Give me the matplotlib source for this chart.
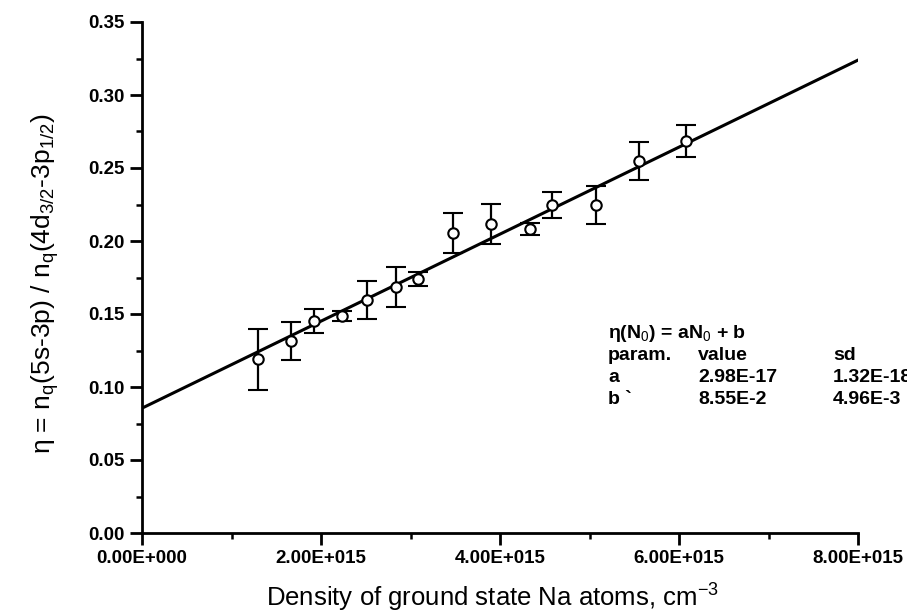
import matplotlib
matplotlib.use("Agg")
import matplotlib.pyplot as plt
import numpy as np
from matplotlib.ticker import FixedLocator, FixedFormatter, MultipleLocator

plt.rcParams['font.family'] = ['Liberation Sans', 'DejaVu Sans']
plt.rcParams['mathtext.fontset'] = 'custom'
plt.rcParams['mathtext.rm'] = 'Liberation Sans'
plt.rcParams['mathtext.it'] = 'Liberation Sans:italic'
plt.rcParams['mathtext.bf'] = 'Liberation Sans:bold'

# Data (density in cm^-3, ratio eta, error)
density = [1.30e15, 1.665e15, 1.92e15, 2.235e15, 2.51e15, 2.84e15, 3.085e15,
           3.475e15, 3.90e15, 4.335e15, 4.58e15, 5.07e15, 5.555e15, 6.08e15]
eta = [0.119, 0.1315, 0.1452, 0.1486, 0.1596, 0.1685, 0.1740,
       0.2055, 0.2116, 0.2082, 0.2247, 0.2247, 0.2548, 0.2685]
eta_err = [0.021, 0.0133, 0.008, 0.0035, 0.013, 0.014, 0.0045,
           0.0137, 0.0137, 0.004, 0.009, 0.013, 0.013, 0.011]

# Linear fit parameters
fit_a = 2.98e-17
fit_b = 8.55e-2

xticks = [0, 2e15, 4e15, 6e15, 8e15]
xtick_labels = ['0.00E+000', '2.00E+015', '4.00E+015', '6.00E+015', '8.00E+015']
yticks = [0.00, 0.05, 0.10, 0.15, 0.20, 0.25, 0.30, 0.35]
ytick_labels = ['0.00', '0.05', '0.10', '0.15', '0.20', '0.25', '0.30', '0.35']

fig = plt.figure(figsize=(9.07, 6.15), dpi=100)
ax = fig.add_axes([142/907, 82/615, 716/907, 511/615])

xl = np.array([0, 8e15])
ax.plot(xl, fit_a * xl + fit_b, color='black', lw=2.2, zorder=2)
ax.errorbar(density, eta, yerr=eta_err, fmt='o', ms=7.5, mfc='white', mec='black',
            mew=1.5, ecolor='black', elinewidth=1.6, capsize=7, capthick=1.8, zorder=3)

ax.set_xlim(0, 8e15)
ax.set_ylim(0, 0.35)
for s in ['top', 'right']:
    ax.spines[s].set_visible(False)
for s in ['left', 'bottom']:
    ax.spines[s].set_linewidth(2)

ax.xaxis.set_major_locator(FixedLocator(xticks))
ax.xaxis.set_major_formatter(FixedFormatter(xtick_labels))
ax.xaxis.set_minor_locator(MultipleLocator(1e15))
ax.yaxis.set_major_locator(FixedLocator(yticks))
ax.yaxis.set_major_formatter(FixedFormatter(ytick_labels))
ax.yaxis.set_minor_locator(MultipleLocator(0.025))
ax.tick_params(which='major', direction='out', length=8.5, width=2, pad=4,
               labelsize=13.5)
ax.tick_params(which='minor', direction='out', length=4.5, width=1.8)
for lab in ax.get_xticklabels() + ax.get_yticklabels():
    lab.set_fontweight('bold')

fig.text(492/907, 1 - 607/615, 'Density of ground state Na atoms, cm$^{-3}$',
         fontsize=18.5, ha='center', va='baseline')
fig.text(45/907, 1 - 284/615,
         'η = n$_\\mathrm{q}$(5s-3p) / n$_\\mathrm{q}$(4d$_{\\mathrm{3/2}}$-3p$_{\\mathrm{1/2}}$)',
         rotation=90, ha='center', va='center', fontsize=19)

tx = [608, 698, 833]
fs = 14
fig.text(tx[0]/907, 1 - 333/615, 'η(N$_\\mathrm{0}$) = aN$_\\mathrm{0}$ + b', fontsize=fs,
         fontweight='bold', va='center')
rows = [['param.', 'value', 'sd'], ['a', '2.98E-17', '1.32E-18'], ['b `', '8.55E-2', '4.96E-3']]
for r, yy in zip(rows, [355, 378, 400]):
    for c, xx in zip(r, tx):
        fig.text(xx/907, 1 - yy/615, c, fontsize=fs, fontweight='bold', va='center')

fig.savefig('out.png', dpi=100)
